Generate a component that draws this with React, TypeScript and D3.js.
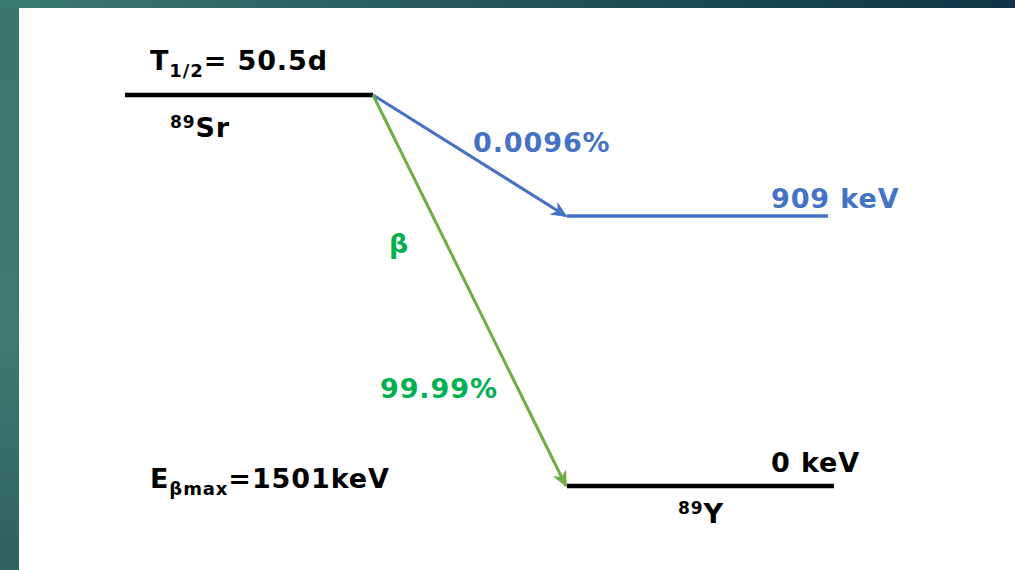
import { useEffect, useRef } from 'react'
import * as d3 from 'd3'

// energy levels (keV) and their pixel rows
const levelEnergies = [0, 909, 1501]
const levelNames = ['89Y', '909', '89Sr']

// transitions from parent level
const transitionTargets = [909, 0]
const transitionLabels = ['0.0096%', '99.99%']
const transitionColors = ['#4472c4', '#70ad47']
const labelColors = ['#4472c4', '#00b050']

const W = 1015
const H = 570

export default function App() {
  const svgRef = useRef<SVGSVGElement>(null)

  useEffect(() => {
    if (!svgRef.current) return
    const svg = d3.select(svgRef.current)
    svg.selectAll('*').remove()

    const font = '"DejaVu Sans", Verdana, sans-serif'

    // background
    const defs = svg.append('defs')
    const gTop = defs.append('linearGradient').attr('id', 'bgTop')
      .attr('x1', '0%').attr('x2', '100%').attr('y1', '0%').attr('y2', '0%')
    gTop.append('stop').attr('offset', '0%').attr('stop-color', '#3c7a6f')
    gTop.append('stop').attr('offset', '55%').attr('stop-color', '#1f525a')
    gTop.append('stop').attr('offset', '100%').attr('stop-color', '#0e3346')
    const gLeft = defs.append('linearGradient').attr('id', 'bgLeft')
      .attr('x1', '0%').attr('x2', '0%').attr('y1', '0%').attr('y2', '100%')
    gLeft.append('stop').attr('offset', '0%').attr('stop-color', '#3b766c')
    gLeft.append('stop').attr('offset', '60%').attr('stop-color', '#3e7a70')
    gLeft.append('stop').attr('offset', '100%').attr('stop-color', '#2d625e')

    svg.append('rect').attr('width', W).attr('height', H).attr('fill', 'url(#bgLeft)')
    svg.append('rect').attr('width', W).attr('height', 8).attr('fill', 'url(#bgTop)')
    svg.append('rect').attr('x', 19).attr('y', 8).attr('width', W - 19).attr('height', H - 8).attr('fill', '#ffffff')

    // scales
    const y = d3.scaleLinear().domain(levelEnergies).range([486, 216, 95])
    const x = d3.scaleLinear().domain([0, 1]).range([373, 567])

    // arrow markers
    transitionColors.forEach((c, i) => {
      defs.append('marker')
        .attr('id', `arr${i}`)
        .attr('viewBox', '0 0 10 10')
        .attr('refX', 9).attr('refY', 5)
        .attr('markerWidth', 5.5).attr('markerHeight', 5.5)
        .attr('markerUnits', 'strokeWidth')
        .attr('orient', 'auto')
        .append('path')
        .attr('d', 'M0,0.5 L10,5 L0,9.5 L3,5 Z')
        .attr('fill', c)
    })

    // parent level
    svg.append('line')
      .attr('x1', 125).attr('x2', x(0))
      .attr('y1', y(1501)).attr('y2', y(1501))
      .attr('stroke', '#000').attr('stroke-width', 4.5)

    // daughter levels
    svg.append('line')
      .attr('x1', x(1)).attr('x2', 828)
      .attr('y1', y(909)).attr('y2', y(909))
      .attr('stroke', '#4472c4').attr('stroke-width', 3.5)
    svg.append('line')
      .attr('x1', x(1)).attr('x2', 834)
      .attr('y1', y(0)).attr('y2', y(0))
      .attr('stroke', '#000').attr('stroke-width', 4.5)

    // transitions
    transitionTargets.forEach((e, i) => {
      svg.append('line')
        .attr('x1', x(0)).attr('y1', y(1501))
        .attr('x2', x(1) - 1).attr('y2', y(e))
        .attr('stroke', transitionColors[i])
        .attr('stroke-width', 3)
        .attr('marker-end', `url(#arr${i})`)
    })

    const txt = (tx: number, ty: number, color: string, size = 27) =>
      svg.append('text')
        .attr('x', tx).attr('y', ty)
        .attr('fill', color)
        .style('font-family', font)
        .style('font-weight', 'bold')
        .style('font-size', `${size}px`)
        .style('letter-spacing', '0.9px')

    // half-life
    const t = txt(150, 70, '#000')
    t.append('tspan').text('T')
    t.append('tspan').attr('dy', 7).style('font-size', '18px').text('1/2')
    t.append('tspan').attr('dy', -7).text('= 50.5d')

    // parent name
    const sr = txt(170, 137, '#000')
    sr.append('tspan').attr('dy', -9).style('font-size', '17px').text('89')
    sr.append('tspan').attr('dy', 9).text('Sr')

    // daughter name
    const yy = txt(678, 523, '#000')
    yy.append('tspan').attr('dy', -9).style('font-size', '17px').text('89')
    yy.append('tspan').attr('dy', 9).text('Y')

    // branching
    txt(473, 152, labelColors[0]).text(transitionLabels[0])
    txt(380, 398, labelColors[1]).text(transitionLabels[1])
    txt(389, 253, labelColors[1]).text('β')

    // energies
    txt(771, 208, '#4472c4').text(`${levelNames[1]} keV`)
    txt(771, 472, '#000').text(`${levelEnergies[0]} keV`)

    // endpoint energy
    const eb = txt(150, 488, '#000')
    eb.append('tspan').text('E')
    eb.append('tspan').attr('dy', 7).style('font-size', '18px').text('βmax')
    eb.append('tspan').attr('dy', -7).text('=1501keV')
  }, [])

  return (
    <svg
      ref={svgRef}
      width={W}
      height={H}
      viewBox={`0 0 ${W} ${H}`}
      style={{ position: 'absolute', left: 0, top: 0, display: 'block' }}
    />
  )
}
